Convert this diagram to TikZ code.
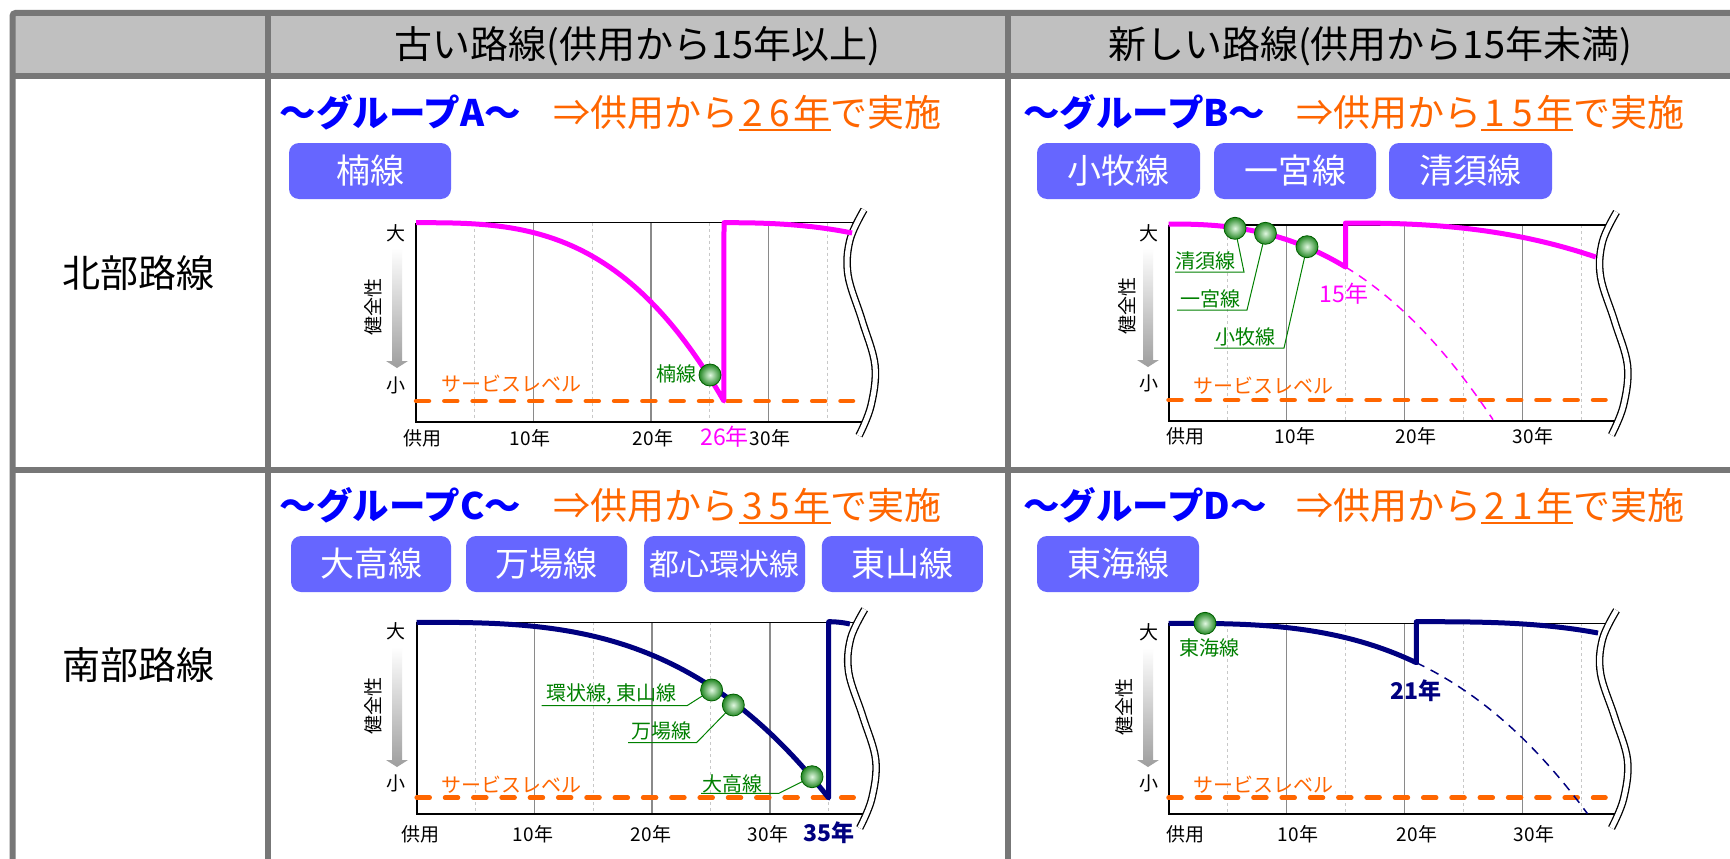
\documentclass[tikz,border=0pt]{standalone}
\usepackage{fontspec}
\setmainfont{Noto Sans CJK JP}
\usetikzlibrary{calc}
\definecolor{gridc}{HTML}{777777}
\definecolor{headc}{HTML}{C0C0C0}
\definecolor{btnc}{HTML}{6666FF}
\definecolor{ttlblue}{HTML}{0000FF}
\definecolor{org}{HTML}{FF6600}
\definecolor{mag}{HTML}{FF00FF}
\definecolor{navyc}{HTML}{000080}
\definecolor{grn}{HTML}{008000}
\definecolor{majg}{HTML}{8A8A8A}
\definecolor{ming}{HTML}{C8C8C8}
\definecolor{ballin}{RGB}{225,248,225}
\definecolor{ballout}{RGB}{35,135,35}
\definecolor{ballrimc}{RGB}{0,95,0}
\newcommand{\fs}[1]{\fontsize{#1}{#1}\selectfont}
\newcommand{\ulin}[1]{\leavevmode\setbox0=\hbox{#1}\rlap{\rule[-5pt]{\wd0}{2.2pt}}\box0}
\newcommand{\dg}[1]{\makebox[27.5pt]{#1}}
\tikzset{
 tline/.style={draw=gridc, line width=6pt},
 hdr/.style={font=\fs{38}, inner sep=0pt},
 rowlbl/.style={font=\fs{38}, inner sep=0pt},
 ttl/.style={font=\bfseries\fs{36.5}, text=ttlblue, inner sep=0pt, anchor=west},
 act/.style={font=\fs{37}, text=org, inner sep=0pt, anchor=west},
 btnbox/.style={fill=btnc, rounded corners=10pt, text=white, font=\fs{34}, inner sep=0pt, minimum height=56pt},
 axl/.style={font=\fs{19}, inner sep=0pt},
 grnl/.style={font=\fs{20}, text=grn, inner sep=0pt},
 svcl/.style={font=\fs{20}, text=org, inner sep=0pt},
 yrmag/.style={font=\fs{23}, text=mag, inner sep=0pt},
 yrnavy/.style={font=\bfseries\fs{23}, text=navyc, inner sep=0pt},
 minorgrid/.style={draw=ming, line width=1pt, dash pattern=on 3pt off 3pt},
 majorgrid/.style={draw=majg, line width=1.5pt},
 frametop/.style={draw=black, line width=1.4pt},
 frameaxis/.style={draw=black, line width=2pt},
 service/.style={draw=org, line width=4.5pt, dash pattern=on 13pt off 15.3pt, line cap=round},
 breakline/.style={draw=black, line width=1.3pt, double=white, double distance=5pt},
 magcurve/.style={draw=mag, line width=5pt, line join=round},
 navycurve/.style={draw=navyc, line width=5pt, line join=round},
 magdash/.style={draw=mag, line width=1.5pt, dash pattern=on 9pt off 7pt},
 navydash/.style={draw=navyc, line width=1.5pt, dash pattern=on 9pt off 7pt},
 leader/.style={draw=grn, line width=1pt},
 ballrim/.style={draw=ballrimc, line width=0.8pt},
}
\newcommand{\plotframe}[5]{%
 \foreach \t in {5,15,25,35}{\draw[minorgrid] ({#1+\t*#5},#2) -- ({#1+\t*#5},#3);}
 \foreach \t in {10,20,30}{\draw[majorgrid] ({#1+\t*#5},#2) -- ({#1+\t*#5},#3);}
 \draw[frametop] (#1,#2) -- ({#1+441},#2);
 \draw[frameaxis] (#1,#2) -- (#1,#3) -- ({#1+450},#3);
 \draw[service] (#1,#4) -- ({#1+437},#4);
 \pgfmathsetmacro\bt{#2-13}\pgfmathsetmacro\bh{#3-#2+27}
 \draw[breakline] plot[smooth,tension=0.6] coordinates {({#1+448},{\bt}) ({#1+434},{\bt+0.133*\bh}) ({#1+432},{\bt+0.289*\bh}) ({#1+446},{\bt+0.489*\bh}) ({#1+459},{\bt+0.689*\bh}) ({#1+455},{\bt+0.867*\bh}) ({#1+443},{\bt+\bh})};
}
\newcommand{\yarrow}[3]{%
 \shade[top color=white, bottom color=black!38] ({#1-5},#2) -- ({#1+5},#2) -- ({#1+5},{#3-7}) -- ({#1+11},{#3-7}) -- (#1,#3) -- ({#1-11},{#3-7}) -- ({#1-5},{#3-7}) -- cycle;}
\newcommand{\ball}[1]{%
 \shade[inner color=ballin, outer color=ballout] (#1) circle[radius=11pt];
 \draw[ballrim] (#1) circle[radius=11pt];}
\begin{document}
\begin{tikzpicture}[x=1pt,y=-1pt]
\useasboundingbox (0,0) rectangle (1730,859);
\fill[white] (0,0) rectangle (1730,859);
% ---------- table ----------
\fill[headc] (12.5,13) rectangle (1745,76);
\draw[tline, rounded corners=3pt] (1745,13) -- (12.5,13) -- (12.5,875);
\draw[tline] (12.5,76) -- (1745,76);
\draw[tline] (12.5,470) -- (1745,470);
\draw[tline] (267.5,13) -- (267.5,875);
\draw[tline] (1007.5,13) -- (1007.5,875);
\node[hdr] (hOld) at (637.5,46) {古い路線(供用から15年以上)};
\node[hdr] (hNew) at (1370,46) {新しい路線(供用から15年未満)};
\node[rowlbl] (rN) at (138,273) {北部路線};
\node[rowlbl] (rS) at (138,665) {南部路線};
% ---------- panel A ----------
\node[ttl] (tA) at (279.5,112) {～グループA～};
\node[act] (aA) at (553.7,113) {⇒供用から\ulin{\dg{2}\dg{6}年}で実施};
\node[btnbox, minimum width=162pt] (bnA1) at (370,171) {楠線};
\plotframe{416}{222.7}{421.7}{401}{11.75}
\yarrow{397}{248}{368}
\node[axl] (yA1) at (396,233.5) {大};
\node[axl] (yA2) at (396,385) {小};
\node[axl, rotate=90] (yA3) at (373,307) {健全性};
\node[svcl] (sA) at (511,384) {サービスレベル};
\node[axl] (xA0) at (422,438) {供用};
\node[axl] (xA1) at (530,438) {10年};
\node[axl] (xA2) at (653,438) {20年};
\node[yrmag] (xA3) at (724.6,437) {26年};
\node[axl] (xA4) at (770,438) {30年};
\draw[magcurve] plot[domain=0:26.2, samples=80] ({416+11.75*\x},{222.7+178.3*(\x/26.2)^3}) -- plot[domain=0:10.9, samples=30] ({724+11.75*\x},{222.7+10.3*(\x/10.9)^2*sqrt(\x/10.9)});
\coordinate (bA1) at (710,375);
\ball{bA1}
\node[grnl] (gA1) at (676,374) {楠線};
% ---------- panel B ----------
\node[ttl] (tB) at (1023,112) {～グループB～};
\node[act] (aB) at (1296,113) {⇒供用から\ulin{\dg{1}\dg{5}年}で実施};
\node[btnbox, minimum width=163pt] (bnB1) at (1118.5,171) {小牧線};
\node[btnbox, minimum width=162pt] (bnB2) at (1295,171) {一宮線};
\node[btnbox, minimum width=163pt] (bnB3) at (1470.5,171) {清須線};
\plotframe{1168.5}{225}{421}{400}{11.8}
\yarrow{1148}{248}{367}
\node[axl] (yB1) at (1149,233) {大};
\node[axl] (yB2) at (1149,383) {小};
\node[axl, rotate=90] (yB3) at (1127,306) {健全性};
\node[svcl] (sB) at (1263,386) {サービスレベル};
\node[axl] (xB0) at (1185,436) {供用};
\node[axl] (xB1) at (1295,436) {10年};
\node[axl] (xB2) at (1416,436) {20年};
\node[axl] (xB3) at (1533,436) {30年};
\draw[magdash] plot[domain=15:27.5, samples=40] ({1168.5+11.8*\x},{224+43*(\x/15)^2*sqrt(\x/15)});
\draw[magcurve] plot[domain=0:15, samples=60] ({1168.5+11.8*\x},{224+43*(\x/15)^2*sqrt(\x/15)}) -- plot[domain=0:21.2, samples=50] ({1345.5+11.8*\x},{223+34*(\x/21.2)^2*sqrt(\x/21.2)});
\node[yrmag] (yrB) at (1344,294) {15年};
\coordinate (bB1) at (1235,228.3);
\coordinate (bB2) at (1265.4,233.3);
\coordinate (bB3) at (1307,246.7);
\node[grnl] (gB1) at (1205,261) {清須線};
\node[grnl] (gB2) at (1210.5,299) {一宮線};
\node[grnl] (gB3) at (1245.5,337) {小牧線};
\coordinate (uB1a) at (1175,272); \coordinate (uB1b) at (1244,272);
\coordinate (uB2a) at (1177,310); \coordinate (uB2b) at (1247,310);
\coordinate (uB3a) at (1214,348); \coordinate (uB3b) at (1284,348);
\draw[leader] (uB1a) -- (uB1b) -- (bB1);
\draw[leader] (uB2a) -- (uB2b) -- (bB2);
\draw[leader] (uB3a) -- (uB3b) -- (bB3);
\ball{bB1}\ball{bB2}\ball{bB3}
% ---------- panel C ----------
\node[ttl] (tC) at (279.5,505) {～グループC～};
\node[act] (aC) at (553.7,506) {⇒供用から\ulin{\dg{3}\dg{5}年}で実施};
\node[btnbox, minimum width=160pt] (bnC1) at (371,564) {大高線};
\node[btnbox, minimum width=161pt] (bnC2) at (546.5,564) {万場線};
\node[btnbox, minimum width=161pt, font=\fs{30}] (bnC3) at (724.5,564) {都心環状線};
\node[btnbox, minimum width=161pt] (bnC4) at (902.3,564) {東山線};
\plotframe{416.7}{622.3}{814}{797.7}{11.77}
\yarrow{397}{647}{767}
\node[axl] (yC1) at (396,631) {大};
\node[axl] (yC2) at (396,783.5) {小};
\node[axl, rotate=90] (yC3) at (373,706) {健全性};
\node[svcl] (sC) at (511,784.5) {サービスレベル};
\node[axl] (xC0) at (420,834) {供用};
\node[axl] (xC1) at (533,834) {10年};
\node[axl] (xC2) at (651,834) {20年};
\node[axl] (xC3) at (768,834) {30年};
\node[yrnavy] (xC4) at (828.5,833) {35年};
\draw[navycurve] plot[domain=0:35, samples=80] ({416.7+11.77*\x},{622.3+175.7*(\x/35)^3}) -- plot[domain=0:1.8, samples=10] ({828.7+11.77*\x},{621.7+2.3*(\x/1.8)^2});
\coordinate (bC1) at (711.6,690);
\coordinate (bC2) at (733.3,705);
\coordinate (bC3) at (812,776.7);
\node[grnl] (gC1) at (611.5,694) {環状線, 東山線};
\node[grnl] (gC2) at (661,731) {万場線};
\node[grnl] (gC3) at (732,784) {大高線};
\coordinate (uC1a) at (541.7,705.7); \coordinate (uC1b) at (687,705.7);
\coordinate (uC2a) at (628,742.7); \coordinate (uC2b) at (696.5,742.7);
\coordinate (uC3a) at (701,793.3); \coordinate (uC3b) at (779,793.3);
\draw[leader] (uC1a) -- (uC1b) -- (bC1);
\draw[leader] (uC2a) -- (uC2b) -- (bC2);
\draw[leader] (uC3a) -- (uC3b) -- (bC3);
\ball{bC1}\ball{bC2}\ball{bC3}
% ---------- panel D ----------
\node[ttl] (tD) at (1023,505) {～グループD～};
\node[act] (aD) at (1296,506) {⇒供用から\ulin{\dg{2}\dg{1}年}で実施};
\node[btnbox, minimum width=162pt] (bnD1) at (1118,564) {東海線};
\plotframe{1168.5}{623.3}{814}{797.7}{11.8}
\yarrow{1148}{648}{767}
\node[axl] (yD1) at (1149,632.5) {大};
\node[axl] (yD2) at (1149,783.5) {小};
\node[axl, rotate=90] (yD3) at (1124.5,707) {健全性};
\node[svcl] (sD) at (1263,785) {サービスレベル};
\node[axl] (xD0) at (1185,834) {供用};
\node[axl] (xD1) at (1298,834) {10年};
\node[axl] (xD2) at (1417,834) {20年};
\node[axl] (xD3) at (1534,834) {30年};
\draw[navydash] plot[domain=21:35.5, samples=40] ({1168.5+11.8*\x},{623.3+39.4*(\x/21)^3});
\draw[navycurve] plot[domain=0:21, samples=60] ({1168.5+11.8*\x},{623.3+39.4*(\x/21)^3}) -- plot[domain=0:15.4, samples=40] ({1416.3+11.8*\x},{621.7+11.3*(\x/15.4)^3});
\node[yrnavy] (yrD) at (1416,691) {21年};
\coordinate (bD1) at (1205,623.3);
\ball{bD1}
\node[grnl] (gD1) at (1209.5,647.7) {東海線};
\end{tikzpicture}
\end{document}
